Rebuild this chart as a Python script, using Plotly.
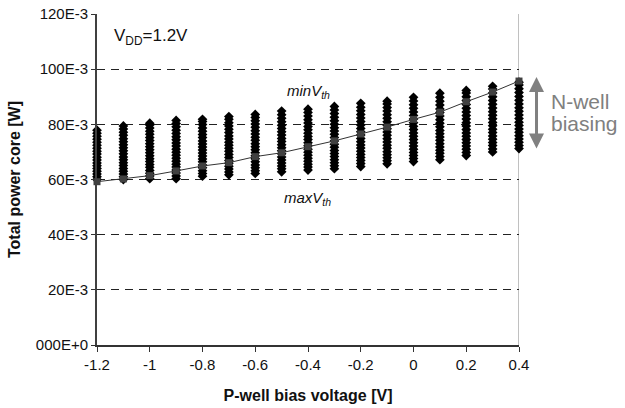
import plotly.graph_objects as go

# P-well bias voltages (x categories)
pwell_bias = [-1.2, -1.1, -1.0, -0.9, -0.8, -0.7, -0.6, -0.5, -0.4,
              -0.3, -0.2, -0.1, 0.0, 0.1, 0.2, 0.3, 0.4]

# Total power (in 1E-3 W) for the N-well bias sweep at each P-well bias
p_m12 = [60.0, 61.0, 62.0, 63.0, 64.0, 65.0, 66.0, 67.1, 68.1, 69.2, 70.2, 71.3, 72.4, 73.5, 74.6, 75.7, 76.8, 77.9]
p_m11 = [60.0, 61.0, 62.0, 63.0, 64.0, 65.1, 66.1, 67.2, 68.2, 69.3, 70.4, 71.5, 72.6, 73.7, 74.8, 76.0, 77.1, 78.3, 79.4]
p_m10 = [60.3, 61.3, 62.3, 63.3, 64.4, 65.4, 66.5, 67.5, 68.6, 69.7, 70.8, 71.9, 73.0, 74.1, 75.2, 76.4, 77.5, 78.7, 79.8, 80.4]
p_m09 = [60.3, 61.3, 62.4, 63.4, 64.5, 65.5, 66.6, 67.7, 68.8, 69.9, 71.0, 72.1, 73.2, 74.4, 75.5, 76.7, 77.9, 79.1, 80.3, 81.4]
p_m08 = [61.2, 62.2, 63.2, 64.3, 65.3, 66.4, 67.4, 68.5, 69.6, 70.7, 71.8, 72.9, 74.0, 75.2, 76.3, 77.5, 78.7, 79.9, 81.0, 81.8]
p_m07 = [61.7, 62.7, 63.8, 64.8, 65.9, 66.9, 68.0, 69.1, 70.2, 71.3, 72.4, 73.5, 74.7, 75.8, 77.0, 78.2, 79.4, 80.6, 81.8, 82.8]
p_m06 = [62.2, 63.2, 64.3, 65.3, 66.4, 67.5, 68.6, 69.7, 70.8, 71.9, 73.0, 74.2, 75.3, 76.5, 77.7, 78.9, 80.1, 81.3, 82.5, 83.6]
p_m05 = [62.8, 63.9, 64.9, 66.0, 67.1, 68.2, 69.3, 70.4, 71.5, 72.6, 73.8, 74.9, 76.1, 77.3, 78.5, 79.7, 80.9, 82.2, 83.5, 84.8]
p_m04 = [63.4, 64.5, 65.5, 66.6, 67.7, 68.8, 69.9, 71.0, 72.2, 73.3, 74.5, 75.6, 76.8, 78.0, 79.2, 80.5, 81.7, 83.0, 84.3, 85.5]
p_m03 = [63.9, 65.0, 66.1, 67.2, 68.3, 69.4, 70.5, 71.7, 72.8, 74.0, 75.2, 76.4, 77.6, 78.8, 80.0, 81.3, 82.6, 83.9, 85.2, 86.5]
p_m02 = [64.7, 65.8, 66.9, 68.0, 69.1, 70.2, 71.4, 72.5, 73.7, 74.9, 76.1, 77.3, 78.5, 79.8, 81.0, 82.3, 83.6, 84.9, 86.2, 87.6]
p_m01 = [65.7, 66.8, 67.9, 69.0, 70.1, 71.3, 72.4, 73.6, 74.8, 76.0, 77.2, 78.4, 79.7, 80.9, 82.2, 83.5, 84.8, 86.1, 87.4, 88.4]
p_000 = [66.5, 67.6, 68.7, 69.8, 71.0, 72.1, 73.3, 74.5, 75.7, 76.9, 78.1, 79.3, 80.6, 81.9, 83.2, 84.5, 85.8, 87.1, 88.5, 89.8]
p_p01 = [67.2, 68.3, 69.5, 70.6, 71.8, 73.0, 74.2, 75.4, 76.6, 77.8, 79.1, 80.4, 81.7, 83.0, 84.3, 85.6, 87.0, 88.4, 89.8, 91.3]
p_p02 = [68.7, 69.8, 71.0, 72.1, 73.3, 74.5, 75.7, 76.9, 78.1, 79.4, 80.6, 81.9, 83.2, 84.5, 85.8, 87.2, 88.6, 90.0, 91.4, 92.3]
p_p03 = [70.0, 71.1, 72.3, 73.4, 74.6, 75.8, 77.0, 78.2, 79.5, 80.7, 82.0, 83.3, 84.6, 85.9, 87.3, 88.6, 90.0, 91.4, 92.8, 93.8]
p_p04 = [71.2, 72.3, 73.5, 74.7, 75.9, 77.1, 78.3, 79.6, 80.8, 82.1, 83.4, 84.7, 86.0, 87.4, 88.7, 90.1, 91.5, 92.9, 94.3, 95.3]

sweeps = [p_m12, p_m11, p_m10, p_m09, p_m08, p_m07, p_m06, p_m05, p_m04,
          p_m03, p_m02, p_m01, p_000, p_p01, p_p02, p_p03, p_p04]

# Nominal curve (zero N-well bias), 1E-3 W
nominal = [59.2, 60.2, 61.4, 63.1, 64.9, 66.1, 68.3, 69.7, 71.9,
           74.0, 76.5, 79.0, 81.8, 84.4, 88.2, 91.7, 95.7]

x_ticks = [-1.2, -1.0, -0.8, -0.6, -0.4, -0.2, 0.0, 0.2, 0.4]
x_ticktext = ["-1.2", "-1", "-0.8", "-0.6", "-0.4", "-0.2", "0", "0.2", "0.4"]
y_ticks = [0, 20, 40, 60, 80, 100, 120]
y_ticktext = ["000E+0", "20E-3", "40E-3", "60E-3", "80E-3", "100E-3", "120E-3"]

sx, sy = [], []
for xv, col in zip(pwell_bias, sweeps):
    sx += [xv] * len(col)
    sy += col

fig = go.Figure()
fig.add_trace(go.Scatter(
    x=sx, y=sy, mode="markers", cliponaxis=False,
    marker=dict(symbol="diamond", size=7.5, color="black", line=dict(width=0)),
    showlegend=False, hoverinfo="skip"))
fig.add_trace(go.Scatter(
    x=pwell_bias, y=nominal, mode="lines+markers", cliponaxis=False,
    line=dict(color="#333333", width=1),
    marker=dict(symbol="square", size=7, color="#404040"),
    showlegend=False))

font_main = "Arial, Liberation Sans, sans-serif"

fig.update_layout(
    width=625, height=408,
    margin=dict(l=97, r=106, t=14, b=63),
    paper_bgcolor="white", plot_bgcolor="white",
    font=dict(family=font_main, size=14, color="#111111"),
    xaxis=dict(
        range=[-1.2, 0.4], tickvals=x_ticks, ticktext=x_ticktext,
        showline=True, linecolor="#333333", linewidth=1.5,
        ticks="outside", ticklen=5, tickcolor="#333333", tickwidth=1,
        showgrid=False, zeroline=False, automargin=False,
        tickfont=dict(size=15),
        title=dict(text="<b>P-well bias voltage [V]</b>", font=dict(size=16), standoff=18),
    ),
    yaxis=dict(
        range=[0, 120], tickvals=y_ticks, ticktext=y_ticktext,
        showline=True, linecolor="#404040", linewidth=2,
        ticks="outside", ticklen=4, tickcolor="#333333", tickwidth=1,
        showgrid=True, gridcolor="#222222", gridwidth=1, griddash="8px,6px",
        zeroline=False, automargin=False,
        tickfont=dict(size=15),
        title=dict(text="<b>Total power core [W]</b>", font=dict(size=16), standoff=11),
    ),
    shapes=[dict(type="line", xref="x", yref="paper", x0=0.4, x1=0.4, y0=0, y1=1,
                 line=dict(color="#808080", width=1), layer="below")],
    annotations=[
        dict(text="V<sub>DD</sub>=1.2V", x=-1.145, y=111.5, xref="x", yref="y",
             xanchor="left", yanchor="middle", showarrow=False,
             font=dict(size=17, color="#111111")),
        dict(text="<i>minV<sub>th</sub></i>", x=-0.487, y=91.8, xref="x", yref="y",
             xanchor="left", yanchor="middle", showarrow=False,
             font=dict(size=15, color="#111111")),
        dict(text="<i>maxV<sub>th</sub></i>", x=-0.497, y=53.0, xref="x", yref="y",
             xanchor="left", yanchor="middle", showarrow=False,
             font=dict(size=15, color="#111111")),
        dict(text="N-well", x=1.0705, y=88.3, xref="paper", yref="y",
             xanchor="left", yanchor="middle", showarrow=False,
             font=dict(size=21, color="#808080")),
        dict(text="biasing", x=1.0705, y=80.3, xref="paper", yref="y",
             xanchor="left", yanchor="middle", showarrow=False,
             font=dict(size=21, color="#808080")),
        dict(text="", x=1.0415, y=97.2, xref="paper", yref="y",
             ax=0, ay=73, axref="pixel", ayref="pixel",
             showarrow=True, arrowside="end+start", arrowhead=2,
             arrowsize=1, arrowwidth=3, arrowcolor="#808080"),
    ],
)

fig.write_html("out.html", config={"displayModeBar": False},
               post_script="document.body.style.margin='0px';document.body.style.padding='0px';")
